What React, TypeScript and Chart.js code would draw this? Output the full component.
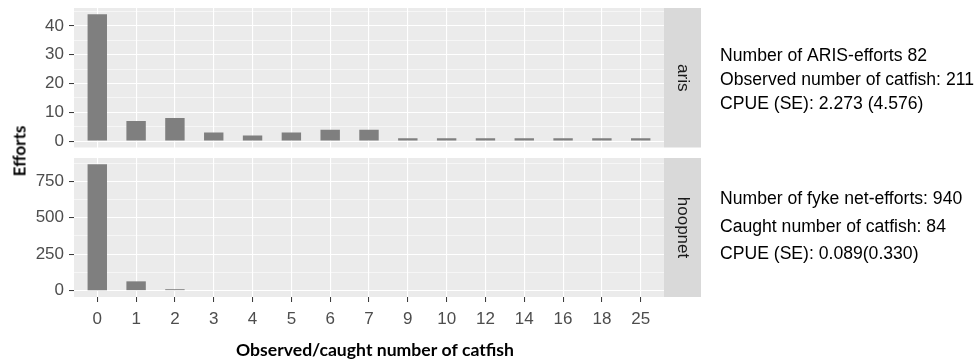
import React, { useEffect, useRef } from 'react';
import { Chart, registerables } from 'chart.js';

Chart.register(...registerables);

// ---------- data ----------
const categories = ['0', '1', '2', '3', '4', '5', '6', '7', '9', '10', '12', '14', '16', '18', '25'];
const arisEfforts = [44, 7, 8, 3, 2, 3, 4, 4, 1, 1, 1, 1, 1, 1, 1];
const hoopnetEfforts = [866, 64, 10, 0, 0, 0, 0, 0, 0, 0, 0, 0, 0, 0, 0];
const arisMajorTicks = [0, 10, 20, 30, 40];
const arisMinorTicks = [5, 15, 25, 35, 45];
const hoopMajorTicks = [0, 250, 500, 750];
const hoopMinorTicks = [125, 375, 625, 875];
const arisNotes = ['Number of ARIS-efforts 82', 'Observed number of catfish: 211', 'CPUE (SE): 2.273 (4.576)'];
const hoopNotes = ['Number of fyke net-efforts: 940', 'Caught number of catfish: 84', 'CPUE (SE): 0.089(0.330)'];
const xTitle = 'Observed/caught number of catfish';
const yTitle = 'Efforts';

// ---------- style ----------
const TICK_FONT = { family: "'Liberation Sans', Arial, sans-serif", size: 17 };
const NOTE_FONT = "17.6px 'Liberation Sans', Arial, sans-serif";
const STRIP_FONT = "17px 'Liberation Sans', Arial, sans-serif";
const TITLE_FONT_FAMILY = "Lato, 'Open Sans', sans-serif";

interface PanelCfg {
  values: number[];
  major: number[];
  minor: number[];
  strip: string;
  notes: string[];
  noteY: number[];
  showX: boolean;
  padBottom: number;
  xHeight: number;
}

function makeChart(canvas: HTMLCanvasElement, cfg: PanelCfg) {
  const vmax = Math.max(...cfg.values);
  const ymin = -0.05 * vmax;
  const ymax = 1.05 * vmax;
  const allY = [...cfg.major, ...cfg.minor].filter(v => v <= ymax && v >= ymin).sort((a, b) => a - b);

  const panelPlugin = {
    id: 'panel',
    beforeDraw(chart: any) {
      const { ctx, chartArea } = chart;
      ctx.save();
      ctx.fillStyle = '#ebebeb';
      ctx.fillRect(chartArea.left, chartArea.top, chartArea.right - chartArea.left, chartArea.bottom - chartArea.top);
      ctx.restore();
    },
    afterDraw(chart: any) {
      const { ctx, chartArea } = chart;
      ctx.save();
      const sw = 37;
      ctx.fillStyle = '#d9d9d9';
      ctx.fillRect(chartArea.right, chartArea.top, sw, chartArea.bottom - chartArea.top);
      ctx.translate(chartArea.right + sw / 2, (chartArea.top + chartArea.bottom) / 2);
      ctx.rotate(Math.PI / 2);
      ctx.fillStyle = '#1a1a1a';
      ctx.font = STRIP_FONT;
      ctx.textAlign = 'center';
      ctx.textBaseline = 'middle';
      ctx.fillText(cfg.strip, 0, 0);
      ctx.restore();

      ctx.save();
      ctx.fillStyle = '#000000';
      ctx.font = NOTE_FONT;
      ctx.textAlign = 'left';
      ctx.textBaseline = 'middle';
      cfg.notes.forEach((t, i) => ctx.fillText(t, 720, cfg.noteY[i]));
      ctx.restore();

      if (cfg.showX) {
        ctx.save();
        ctx.fillStyle = '#000000';
        ctx.font = `bold 17.6px ${TITLE_FONT_FAMILY}`;
        ctx.textAlign = 'center';
        ctx.textBaseline = 'middle';
        ctx.fillText(xTitle, 375, 200);
        ctx.restore();
      }
    },
  };

  return new Chart(canvas, {
    type: 'bar',
    data: {
      datasets: [
        {
          data: cfg.values.map((v, i) => ({ x: i, y: v })),
          backgroundColor: '#7f7f7f',
          borderWidth: 0,
          barPercentage: 0.5,
          categoryPercentage: 1,
        },
      ],
    },
    options: {
      animation: false,
      responsive: false,
      maintainAspectRatio: false,
      layout: { padding: { top: 8, right: 315, bottom: cfg.padBottom, left: 0 } },
      plugins: { legend: { display: false }, tooltip: { enabled: false } },
      scales: {
        x: {
          type: 'linear',
          offset: false,
          min: -0.6,
          max: categories.length - 1 + 0.6,
          afterBuildTicks: (s: any) => {
            s.ticks = categories.map((_, i) => ({ value: i }));
          },
          ticks: {
            display: cfg.showX,
            autoSkip: false,
            maxRotation: 0,
            padding: 7,
            color: '#4d4d4d',
            font: TICK_FONT,
            callback: (v: any) => categories[v as number] ?? '',
          },
          grid: {
            offset: false,
            color: '#ffffff',
            lineWidth: 1.1,
            drawTicks: cfg.showX,
            tickLength: 5,
            tickColor: '#333333',
            tickWidth: 1,
          },
          border: { display: false },
          afterFit: (s: any) => {
            s.height = cfg.xHeight;
            s.paddingLeft = 0;
            s.paddingRight = 0;
          },
        },
        y: {
          type: 'linear',
          min: ymin,
          max: ymax,
          afterBuildTicks: (s: any) => {
            s.ticks = allY.map(v => ({ value: v }));
          },
          ticks: {
            autoSkip: false,
            padding: 5,
            color: '#4d4d4d',
            font: TICK_FONT,
            callback: (v: any) => (cfg.major.includes(v as number) ? String(v) : ''),
          },
          grid: {
            color: '#ffffff',
            lineWidth: (c: any) => (cfg.major.includes(c.tick?.value) ? 1.1 : 0.55),
            tickLength: 5,
            tickWidth: 1,
            tickColor: (c: any) => (cfg.major.includes(c.tick?.value) ? '#333333' : 'rgba(0,0,0,0)'),
          },
          border: { display: false },
          afterFit: (s: any) => {
            s.width = 74;
            s.paddingTop = 0;
            s.paddingBottom = 0;
          },
        },
      },
    },
    plugins: [panelPlugin],
  } as any);
}

export default function App() {
  const topRef = useRef<HTMLCanvasElement>(null);
  const botRef = useRef<HTMLCanvasElement>(null);

  useEffect(() => {
    document.body.style.margin = '0';
    const c1 = makeChart(topRef.current!, {
      values: arisEfforts,
      major: arisMajorTicks,
      minor: arisMinorTicks,
      strip: 'aris',
      notes: arisNotes,
      noteY: [56, 80, 104],
      showX: false,
      padBottom: 2.5,
      xHeight: 0,
    });
    const c2 = makeChart(botRef.current!, {
      values: hoopnetEfforts,
      major: hoopMajorTicks,
      minor: hoopMinorTicks,
      strip: 'hoopnet',
      notes: hoopNotes,
      noteY: [49, 77, 104],
      showX: true,
      padBottom: 36,
      xHeight: 30,
    });
    return () => {
      c1.destroy();
      c2.destroy();
    };
  }, []);

  return (
    <div style={{ position: 'relative', width: 979, height: 363, background: '#ffffff', overflow: 'hidden' }}>
      <canvas ref={topRef} width={979} height={150} style={{ position: 'absolute', left: 0, top: 0, width: 979, height: 150 }} />
      <canvas ref={botRef} width={979} height={213} style={{ position: 'absolute', left: 0, top: 150, width: 979, height: 213 }} />
      <div
        style={{
          position: 'absolute',
          left: 18.5,
          top: 151,
          transform: 'translate(-50%, -50%) rotate(-90deg)',
          fontFamily: TITLE_FONT_FAMILY,
          fontWeight: 'bold',
          fontSize: 17,
          color: '#000',
          whiteSpace: 'nowrap',
          lineHeight: 1,
        }}
      >
        {yTitle}
      </div>
    </div>
  );
}
